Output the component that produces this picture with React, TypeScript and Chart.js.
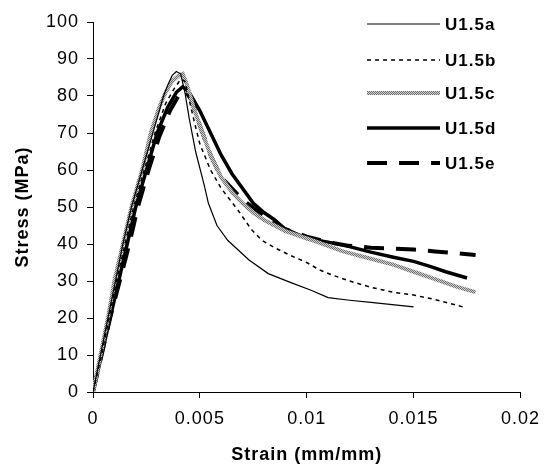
import React, { useEffect, useRef } from 'react';
import { Chart, registerables } from 'chart.js';

Chart.register(...registerables);

const seriesNames = ['U1.5a', 'U1.5b', 'U1.5c', 'U1.5d', 'U1.5e'];

const strainA = [0, 0.00035, 0.0007, 0.00105, 0.0014, 0.0018, 0.0023, 0.0028, 0.0031, 0.0033, 0.0035, 0.0037, 0.0039, 0.0041, 0.0043, 0.0045, 0.0048, 0.0052, 0.0054, 0.0058, 0.0063, 0.0073, 0.0082, 0.0092, 0.0102, 0.011, 0.012, 0.013, 0.014, 0.015];
const stressA = [0, 10, 20, 30, 40, 50, 60, 70, 76, 80, 83, 85.5, 86.6, 86, 81, 74, 65, 56, 51, 45, 41, 35.7, 32, 29.7, 27.5, 25.5, 24.8, 24.2, 23.6, 23];

const strainB = [0, 0.0004, 0.00075, 0.0011, 0.0015, 0.0019, 0.0024, 0.0029, 0.0034, 0.0038, 0.0041, 0.0043, 0.0045, 0.0047, 0.005, 0.0055, 0.006, 0.0068, 0.0074, 0.0079, 0.0085, 0.0092, 0.01, 0.0106, 0.0112, 0.012, 0.013, 0.014, 0.015, 0.016, 0.0173];
const stressB = [0, 10, 20, 30, 40, 50, 60, 70, 78, 82, 84.5, 84, 79, 74, 67, 60, 55, 49, 44, 41, 39, 37, 35, 33, 31.6, 30, 28.3, 27, 26.2, 25, 23];

const strainC = [0, 0.00035, 0.0007, 0.001, 0.0014, 0.0018, 0.0023, 0.0027, 0.0031, 0.0034, 0.0037, 0.004, 0.0042, 0.0044, 0.0047, 0.005, 0.0055, 0.006, 0.0065, 0.007, 0.0075, 0.008, 0.009, 0.01, 0.0105, 0.0117, 0.013, 0.014, 0.015, 0.016, 0.017, 0.0179];
const stressC = [0, 10, 20, 30, 40, 50, 60, 70, 77, 81, 84, 85.5, 86, 83, 77, 72, 64, 58, 54, 51, 48.5, 46.5, 43.5, 41.5, 40.5, 38, 36, 34.5, 32.5, 30.5, 28.5, 27];

const strainD = [0, 0.0004, 0.0008, 0.0012, 0.0016, 0.002, 0.0025, 0.003, 0.0035, 0.0039, 0.0042, 0.0045, 0.005, 0.0055, 0.006, 0.0065, 0.007, 0.0075, 0.008, 0.0085, 0.009, 0.01, 0.011, 0.012, 0.013, 0.014, 0.015, 0.0158, 0.0165, 0.0175];
const stressD = [0, 10, 20, 30, 40, 50, 60, 70, 77, 81, 82.5, 81, 76, 70, 64, 59, 55, 51, 48.5, 46.5, 44, 41.5, 40.5, 39.3, 37.8, 36.5, 35.3, 33.9, 32.5, 30.8];

const strainE = [0, 0.0004, 0.0008, 0.00125, 0.0017, 0.0021, 0.0026, 0.0031, 0.0036, 0.004, 0.0043, 0.0046, 0.005, 0.0055, 0.006, 0.007, 0.008, 0.009, 0.01, 0.011, 0.012, 0.013, 0.014, 0.015, 0.016, 0.017, 0.0179];
const stressE = [0, 10, 20, 30, 40, 50, 60, 69, 76, 80, 81.5, 79, 72, 64, 58, 52, 47.5, 44, 42, 40.5, 39.5, 39, 38.8, 38.5, 38, 37.5, 37];

const xTickLabels = ['0', '0.005', '0.01', '0.015', '0.02'];
const yTickLabels = ['0', '10', '20', '30', '40', '50', '60', '70', '80', '90', '100'];

const FONT = '"Liberation Sans", Arial, sans-serif';

function toPoints(xs: number[], ys: number[]) {
  return xs.map((x, i) => ({ x, y: ys[i] }));
}

function makeGreyPattern(): CanvasPattern | string {
  const c = document.createElement('canvas');
  c.width = 2;
  c.height = 2;
  const g = c.getContext('2d');
  if (!g) return '#999';
  g.fillStyle = '#cfcfcf';
  g.fillRect(0, 0, 2, 2);
  g.fillStyle = '#707070';
  g.fillRect(0, 0, 1, 1);
  g.fillRect(1, 1, 1, 1);
  const p = g.createPattern(c, 'repeat');
  return p || '#999';
}

export default function App() {
  const ref = useRef<HTMLCanvasElement | null>(null);

  useEffect(() => {
    document.body.style.margin = '0';
    const canvas = ref.current;
    if (!canvas) return;
    const grey = makeGreyPattern();

    const styles = [
      { color: '#000', width: 1.2, dash: [] as number[] },
      { color: '#000', width: 1.5, dash: [4, 4] },
      { color: grey, width: 4, dash: [] as number[] },
      { color: '#000', width: 3.5, dash: [] as number[] },
      { color: '#000', width: 4, dash: [20, 12] },
    ];
    const series = [
      toPoints(strainA, stressA),
      toPoints(strainB, stressB),
      toPoints(strainC, stressC),
      toPoints(strainD, stressD),
      toPoints(strainE, stressE),
    ];

    const spacingPlugin = {
      id: 'letterSpacing',
      beforeInit(chart: any) {
        chart.ctx.letterSpacing = '1px';
      },
      beforeUpdate(chart: any) {
        chart.ctx.letterSpacing = '1px';
      },
      beforeDraw(chart: any) {
        chart.ctx.letterSpacing = '1px';
      },
    };

    const legendPlugin = {
      id: 'customLegend',
      afterDraw(chart: any) {
        const ctx = chart.ctx as CanvasRenderingContext2D;
        const rowsY = [24, 60, 93, 128, 163];
        ctx.save();
        seriesNames.forEach((name, i) => {
          const s = styles[i];
          const y = rowsY[i];
          ctx.beginPath();
          ctx.setLineDash(s.dash);
          ctx.lineWidth = s.width;
          ctx.strokeStyle = s.color as any;
          ctx.lineCap = 'butt';
          ctx.moveTo(367, y);
          ctx.lineTo(440, y);
          ctx.stroke();
          ctx.setLineDash([]);
          ctx.fillStyle = '#000';
          ctx.font = `bold 17px ${FONT}`;
          ctx.textBaseline = 'middle';
          ctx.textAlign = 'left';
          ctx.fillText(name, 445, y + 1);
        });
        ctx.restore();
      },
    };

    const chart = new Chart(canvas, {
      type: 'line',
      data: {
        datasets: series.map((pts, i) => ({
          label: seriesNames[i],
          data: pts,
          borderColor: styles[i].color as any,
          borderWidth: styles[i].width,
          borderDash: styles[i].dash,
          pointRadius: 0,
          fill: false,
          tension: 0,
        })),
      },
      options: {
        responsive: false,
        animation: false,
        devicePixelRatio: 1,
        layout: { padding: { top: 22, right: 29, left: 0, bottom: 0 } },
        plugins: {
          legend: { display: false },
          tooltip: { enabled: false },
        },
        scales: {
          x: {
            type: 'linear',
            min: 0,
            max: 0.02,
            border: { color: '#000', width: 1 },
            grid: { drawOnChartArea: false, drawTicks: true, tickLength: 6, color: '#000' },
            ticks: {
              stepSize: 0.005,
              color: '#000',
              font: { size: 18, family: FONT },
              padding: 10,
              maxRotation: 0,
              callback: (_v: any, i: number) => xTickLabels[i],
            },
            title: {
              display: true,
              text: 'Strain (mm/mm)',
              color: '#000',
              font: { size: 18, weight: 'bold', family: FONT },
              padding: { top: 0, bottom: 5 },
            },
            afterFit: (s: any) => {
              s.height = 79;
            },
          },
          y: {
            type: 'linear',
            min: 0,
            max: 100,
            border: { color: '#000', width: 1 },
            grid: { drawOnChartArea: false, drawTicks: true, tickLength: 6, color: '#000' },
            ticks: {
              stepSize: 10,
              color: '#000',
              font: { size: 18, family: FONT },
              padding: 8,
              callback: (_v: any, i: number) => yTickLabels[i],
            },
            title: {
              display: true,
              text: 'Stress (MPa)',
              color: '#000',
              font: { size: 18, weight: 'bold', family: FONT },
              padding: { top: 12, bottom: 0 },
            },
            afterFit: (s: any) => {
              s.width = 93;
            },
          },
        },
      },
      plugins: [spacingPlugin, legendPlugin],
    });

    return () => chart.destroy();
  }, []);

  return (
    <div style={{ width: 550, height: 471, background: '#fff' }}>
      <canvas ref={ref} width={550} height={471} style={{ display: 'block' }} />
    </div>
  );
}
